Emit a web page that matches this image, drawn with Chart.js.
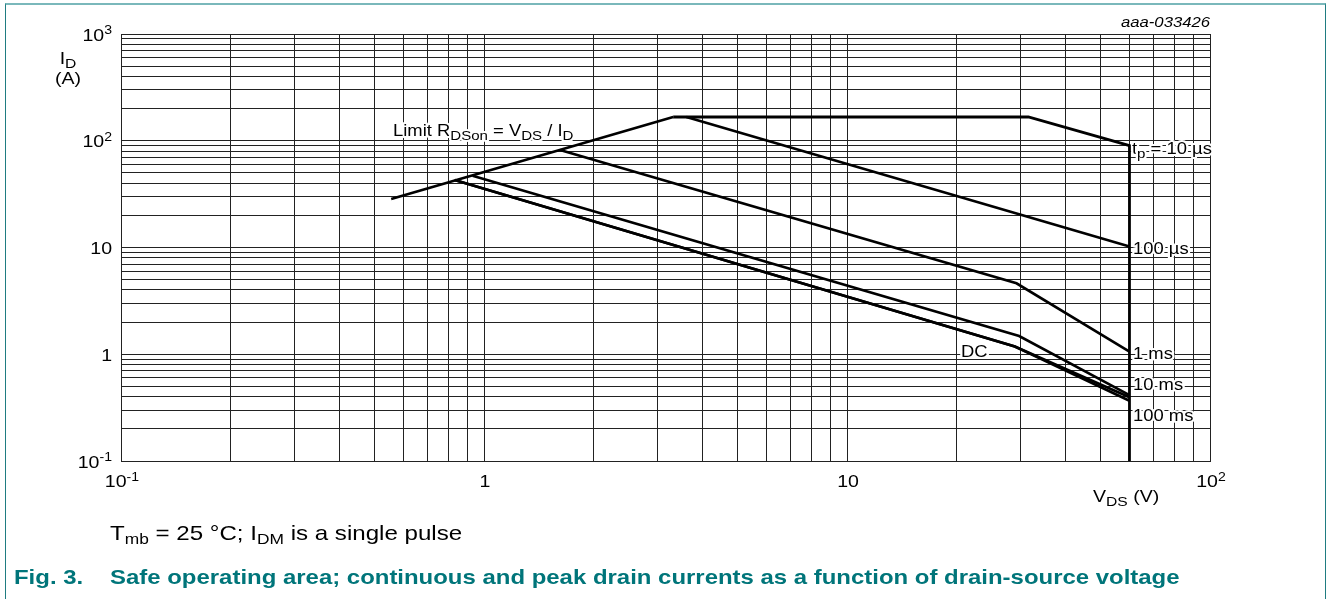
<!DOCTYPE html>
<html>
<head>
<meta charset="utf-8">
<script src="https://cdn.jsdelivr.net/npm/chart.js@4.4.1/dist/chart.umd.min.js"></script>
<style>
  html, body { margin: 0; padding: 0; background: #fff; }
  body { width: 1328px; height: 599px; position: relative; overflow: hidden;
         font-family: "Liberation Sans", Arial, sans-serif; }
  #frame { position: absolute; left: 5px; top: 3px; width: 1321px; height: 640px;
           border-top: 2px solid #7ab8bb; border-left: 1.5px solid #1f7c81;
           border-right: 1.5px solid #1f7c81; box-sizing: border-box; }
  #soa { position: absolute; left: 0; top: 0; }
  .note { position: absolute; left: 110px; top: 521px; font-size: 21px; line-height: 24px;
          color: #000; white-space: nowrap; transform: scaleX(1.148); transform-origin: left; }
  .cap { position: absolute; top: 565px; font-size: 21px; line-height: 24px; font-weight: bold;
         color: #00757a; white-space: nowrap; transform: scaleX(1.14); transform-origin: left; }
  sub { font-size: 0.72em; vertical-align: -0.28em; line-height: 0; }
</style>
</head>
<body>
<div id="frame"></div>
<canvas id="soa" width="1328" height="599"></canvas>
<div class="note">T<sub>mb</sub> = 25 °C; I<sub>DM</sub> is a single pulse</div>
<div class="cap" style="left:14px">Fig. 3.</div>
<div class="cap" style="left:110px">Safe operating area; continuous and peak drain currents as a function of drain-source voltage</div>
<script>
// Valeurs (V_DS en V, I_D en A)
const limitVds = [0.555, 3.32];
const limitId = [28.5, 167];
const tp10usVds = [3.32, 31.6, 60, 60];
const tp10usId = [167, 167, 90, 0.1];
const tp100usVds = [3.61, 60];
const tp100usId = [167, 10.2];
const tp1msVds = [1.62, 29.3, 60];
const tp1msId = [82, 4.62, 1.06];
const tp10msVds = [0.93, 29.8, 60];
const tp10msId = [47, 1.48, 0.415];
const tp100msVds = [0.83, 29, 60];
const tp100msId = [42.9, 1.18, 0.395];
const dcVds = [0.83, 29, 60];
const dcId = [42.9, 1.18, 0.367];

// Graduations (décades) et libellés
const xDecades = [0.1, 1, 10, 100];
const yDecades = [0.1, 1, 10, 100, 1000];
const xTickBase = ['10', '1', '10', '10'];
const xTickExp = ['-1', '', '', '2'];
const yTickBase = ['10', '1', '10', '10', '10'];
const yTickExp = ['-1', '', '', '2', '3'];
const mantissas = [1, 2, 3, 4, 5, 6, 7, 8, 9];

const TEXT_SX = 1.15;
const FONT = '"Liberation Sans", Arial, sans-serif';

function gridValues(decades) {
  const vals = [];
  decades.slice(0, -1).forEach(d => mantissas.forEach(m => vals.push(d * m)));
  vals.push(decades[decades.length - 1]);
  return vals;
}

function toPoints(xs, ys) {
  return xs.map((v, i) => ({ x: v, y: ys[i] }));
}

// texte avec indices / exposants
function drawRich(ctx, parts, x, y, size, align, halo, italic, subScale) {
  const font = s => (italic ? 'italic ' : '') + s + 'px ' + FONT;
  const ss = subScale || 0.72;
  let total = 0;
  const items = parts.filter(p => p[0] !== '').map(([t, m]) => {
    const s = m === 'n' ? size : size * ss;
    ctx.font = font(s);
    const w = ctx.measureText(t).width * TEXT_SX;
    total += w;
    return { t, m, s, w };
  });
  let cx = align === 'right' ? x - total : align === 'center' ? x - total / 2 : x;
  items.forEach(it => {
    const dy = it.m === 'sub' ? size * 0.25 : it.m === 'sup' ? -size * 0.38 : 0;
    ctx.save();
    ctx.translate(cx, y + dy);
    ctx.scale(TEXT_SX, 1);
    ctx.font = font(it.s);
    ctx.textAlign = 'left';
    ctx.textBaseline = 'alphabetic';
    if (halo) {
      ctx.lineWidth = 4;
      ctx.lineJoin = 'round';
      ctx.strokeStyle = '#fff';
      ctx.strokeText(it.t, 0, 0);
    }
    ctx.fillStyle = '#000';
    ctx.fillText(it.t, 0, 0);
    ctx.restore();
    cx += it.w;
  });
}

const curveLabels = [
  { parts: [['Limit R', 'n'], ['DSon', 'sub'], [' = V', 'n'], ['DS', 'sub'], [' / I', 'n'], ['D', 'sub']], x: 393, y: 136 },
  { parts: [['t', 'n'], ['p', 'sub'], [' = 10 µs', 'n']], x: 1132, y: 154 },
  { parts: [['100 µs', 'n']], x: 1133, y: 254 },
  { parts: [['1 ms', 'n']], x: 1133, y: 359 },
  { parts: [['10 ms', 'n']], x: 1133, y: 390 },
  { parts: [['100 ms', 'n']], x: 1133, y: 421 },
  { parts: [['DC', 'n']], x: 961, y: 357 }
];

const textPlugin = {
  id: 'soaText',
  beforeDatasetsDraw(chart) {
    const ctx = chart.ctx;
    curveLabels.forEach(l => drawRich(ctx, l.parts, l.x, l.y, 16, 'left', true, false, 0.82));
  },
  afterDraw(chart) {
    const ctx = chart.ctx;
    const xs = chart.scales.x, ys = chart.scales.y;
    yDecades.forEach((v, i) => {
      drawRich(ctx, [[yTickBase[i], 'n'], [yTickExp[i], 'sup']], 112, ys.getPixelForValue(v) + 6.5, 17, 'right');
    });
    xDecades.forEach((v, i) => {
      drawRich(ctx, [[xTickBase[i], 'n'], [xTickExp[i], 'sup']], xs.getPixelForValue(v) + 1, 487, 17, 'center');
    });
    drawRich(ctx, [['I', 'n'], ['D', 'sub']], 68, 64, 17, 'center', false, false, 0.8);
    drawRich(ctx, [['(A)', 'n']], 68, 84, 17, 'center');
    drawRich(ctx, [['V', 'n'], ['DS', 'sub'], [' (V)', 'n']], 1093, 502, 17, 'left', false, false, 0.8);
    drawRich(ctx, [['aaa-033426', 'n']], 1210, 27, 14.5, 'right', false, true);
  }
};

const lineStyle = { borderColor: '#000', borderWidth: 2.6, pointRadius: 0, fill: false, tension: 0 };

const ctx = document.getElementById('soa').getContext('2d');
const soaChart = new Chart(ctx, {
  type: 'line',
  data: {
    datasets: [
      { label: 'Limit RDSon', data: toPoints(limitVds, limitId), ...lineStyle },
      { label: 'tp = 10 µs', data: toPoints(tp10usVds, tp10usId), ...lineStyle, borderWidth: 2.8 },
      { label: '100 µs', data: toPoints(tp100usVds, tp100usId), ...lineStyle },
      { label: '1 ms', data: toPoints(tp1msVds, tp1msId), ...lineStyle },
      { label: '10 ms', data: toPoints(tp10msVds, tp10msId), ...lineStyle },
      { label: '100 ms', data: toPoints(tp100msVds, tp100msId), ...lineStyle },
      { label: 'DC', data: toPoints(dcVds, dcId), ...lineStyle }
    ]
  },
  options: {
    responsive: false,
    animation: false,
    layout: { padding: { left: 121, right: 118, top: 34, bottom: 138 } },
    plugins: { legend: { display: false }, tooltip: { enabled: false } },
    scales: {
      x: {
        type: 'logarithmic', min: 0.1, max: 100,
        afterBuildTicks: s => { s.ticks = gridValues(xDecades).map(v => ({ value: v })); },
        ticks: { display: false },
        grid: { color: '#222', lineWidth: 1, drawTicks: false },
        border: { color: '#222', width: 1 }
      },
      y: {
        type: 'logarithmic', min: 0.1, max: 1000,
        afterBuildTicks: s => { s.ticks = gridValues(yDecades).map(v => ({ value: v })); },
        ticks: { display: false },
        grid: { color: '#222', lineWidth: 1, drawTicks: false },
        border: { color: '#222', width: 1 }
      }
    }
  },
  plugins: [textPlugin]
});
</script>
</body>
</html>
